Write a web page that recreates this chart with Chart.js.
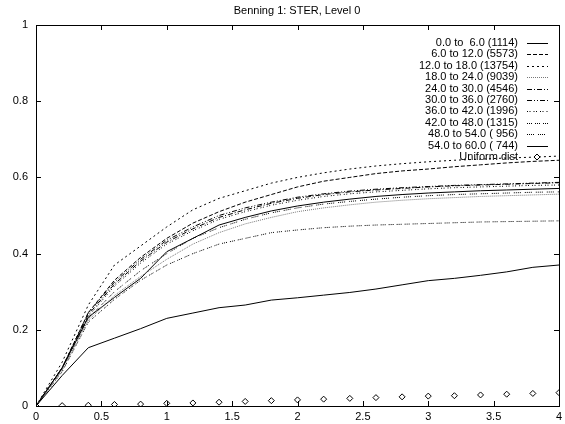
<!DOCTYPE html>
<html>
<head>
<meta charset="utf-8">
<script src="https://cdn.jsdelivr.net/npm/chart.js@4/dist/chart.umd.min.js"></script>
<style>
  html, body { margin: 0; padding: 0; background: #fff; }
  canvas { display: block; }
</style>
</head>
<body>
<canvas id="chart" width="565" height="424"></canvas>
<script>
// x positions shared by all series
const xValues = [0, 0.2, 0.4, 0.6, 0.8, 1.0, 1.2, 1.4, 1.6, 1.8, 2.0,
  2.2, 2.4, 2.6, 2.8, 3.0, 3.2, 3.4, 3.6, 3.8, 4.0]

const seriesLabels = [
  "0.0 to  6.0 (1114)",
  "6.0 to 12.0 (5573)",
  "12.0 to 18.0 (13754)",
  "18.0 to 24.0 (9039)",
  "24.0 to 30.0 (4546)",
  "30.0 to 36.0 (2760)",
  "36.0 to 42.0 (1996)",
  "42.0 to 48.0 (1315)",
  "48.0 to 54.0 ( 956)",
  "54.0 to 60.0 ( 744)",
]

const s0to6 = [0, 0.08, 0.153, 0.178, 0.203, 0.230, 0.244, 0.258, 0.265, 0.278, 0.284,
  0.291, 0.298, 0.307, 0.318, 0.329, 0.335, 0.343, 0.352, 0.364, 0.370]
const s6to12 = [0, 0.10, 0.245, 0.33, 0.39, 0.44, 0.48, 0.51, 0.535, 0.555, 0.575,
  0.59, 0.60, 0.61, 0.617, 0.622, 0.628, 0.633, 0.638, 0.642, 0.645]
const s12to18 = [0, 0.115, 0.265, 0.37, 0.42, 0.47, 0.515, 0.545, 0.565, 0.585, 0.60,
  0.612, 0.622, 0.63, 0.636, 0.641, 0.645, 0.648, 0.651, 0.653, 0.656]
const s18to24 = [0, 0.095, 0.225, 0.29, 0.34, 0.385, 0.425, 0.455, 0.478, 0.495, 0.51,
  0.52, 0.528, 0.535, 0.54, 0.544, 0.547, 0.55, 0.552, 0.554, 0.556]
const s24to30 = [0, 0.10, 0.24, 0.32, 0.38, 0.43, 0.465, 0.495, 0.515, 0.532, 0.545,
  0.555, 0.562, 0.567, 0.571, 0.575, 0.578, 0.58, 0.582, 0.584, 0.586]
const s30to36 = [0, 0.10, 0.245, 0.325, 0.385, 0.435, 0.47, 0.50, 0.52, 0.535, 0.548,
  0.557, 0.564, 0.569, 0.573, 0.576, 0.579, 0.581, 0.583, 0.585, 0.587]
const s36to42 = [0, 0.10, 0.235, 0.315, 0.375, 0.425, 0.46, 0.49, 0.51, 0.527, 0.54,
  0.55, 0.557, 0.562, 0.566, 0.57, 0.573, 0.575, 0.577, 0.579, 0.58]
const s42to48 = [0, 0.09, 0.22, 0.28, 0.33, 0.37, 0.40, 0.425, 0.44, 0.455, 0.462,
  0.468, 0.472, 0.475, 0.477, 0.479, 0.481, 0.483, 0.484, 0.485, 0.486]
const s48to54 = [0, 0.095, 0.23, 0.30, 0.355, 0.40, 0.44, 0.468, 0.49, 0.507, 0.52,
  0.53, 0.537, 0.543, 0.548, 0.552, 0.555, 0.557, 0.559, 0.561, 0.562]
const s54to60 = [0, 0.10, 0.233, 0.285, 0.335, 0.405, 0.44, 0.475, 0.495, 0.512, 0.525,
  0.535, 0.543, 0.55, 0.555, 0.559, 0.562, 0.565, 0.567, 0.569, 0.571]
const uniformDist = [0, 0.001, 0.002, 0.004, 0.005, 0.007, 0.008, 0.010, 0.012, 0.014, 0.016,
  0.018, 0.020, 0.022, 0.024, 0.026, 0.027, 0.029, 0.031, 0.033, 0.035]

const xTicks = [0, 0.5, 1, 1.5, 2, 2.5, 3, 3.5, 4]
const yTicks = [0, 0.2, 0.4, 0.6, 0.8, 1]

const seriesValues = [s0to6, s6to12, s12to18, s18to24, s24to30,
  s30to36, s36to42, s42to48, s48to54, s54to60]

// gnuplot-ish line types
const dashes = [
  [], [4, 2], [2, 3], [1, 1], [5, 2, 1, 2],
  [5, 2, 1, 2, 1, 2], [1, 1.5, 1, 3], [1, 1, 1, 1, 1, 3], [1, 1, 1, 1, 1, 1, 1, 4], [],
]
const FAMILY = "'Liberation Sans', Arial, sans-serif"
const FONT = "11px " + FAMILY

const toPoints = (ys) => xValues.map((x, i) => ({ x: x, y: ys[i] }))

const datasets = seriesValues.map((ys, i) => ({
  label: seriesLabels[i],
  data: toPoints(ys),
  showLine: true,
  borderColor: i === 3 ? "#777" : "#000",
  borderWidth: 1,
  borderDash: dashes[i],
  pointRadius: 0,
  tension: 0,
  fill: false,
}))
datasets.push({
  label: "Uniform dist",
  data: toPoints(uniformDist),
  showLine: false,
  pointStyle: "rectRot",
  pointRadius: 3,
  borderColor: "#000",
  backgroundColor: "#fff",
  borderWidth: 1,
})

// frame, inward ticks, title and gnuplot style key
const gnuplotLook = {
  id: "gnuplotLook",
  afterDraw(chart) {
    const c = chart.ctx
    const a = chart.chartArea
    const xs = chart.scales.x
    const ys = chart.scales.y
    c.save()
    c.strokeStyle = "#000"
    c.lineWidth = 1
    c.setLineDash([])
    c.strokeRect(a.left + 0.5, a.top + 0.5, a.right - a.left, a.bottom - a.top)
    c.beginPath()
    xTicks.forEach((v) => {
      const px = Math.round(xs.getPixelForValue(v)) + 0.5
      c.moveTo(px, a.bottom); c.lineTo(px, a.bottom - 5)
      c.moveTo(px, a.top); c.lineTo(px, a.top + 5)
    })
    yTicks.forEach((v) => {
      const py = Math.round(ys.getPixelForValue(v)) + 0.5
      c.moveTo(a.left, py); c.lineTo(a.left + 5, py)
      c.moveTo(a.right, py); c.lineTo(a.right - 5, py)
    })
    c.stroke()

    c.fillStyle = "#000"
    c.font = FONT
    c.textAlign = "center"
    c.textBaseline = "middle"
    c.fillText("Benning 1: STER, Level 0", 297, 11)

    // key
    const textRight = 518
    const sx0 = 527
    const sx1 = 548
    chart.data.datasets.forEach((ds, i) => {
      const y = 43 + i * 11.4
      c.textAlign = "right"
      c.fillStyle = "#000"
      c.fillText(ds.label, textRight, y)
      if (ds.showLine === false) {
        const cx = 537
        c.setLineDash([])
        c.beginPath()
        c.moveTo(cx, y - 3); c.lineTo(cx + 3, y); c.lineTo(cx, y + 3); c.lineTo(cx - 3, y); c.closePath()
        c.fillStyle = "#fff"
        c.fill()
        c.stroke()
      } else {
        c.strokeStyle = ds.borderColor
        c.setLineDash(ds.borderDash)
        c.beginPath()
        c.moveTo(sx0, Math.round(y) + 0.5); c.lineTo(sx1, Math.round(y) + 0.5)
        c.stroke()
        c.strokeStyle = "#000"
      }
    })
    c.restore()
  },
}

new Chart(document.getElementById("chart"), {
  type: "scatter",
  data: { datasets: datasets },
  options: {
    responsive: false,
    animation: false,
    devicePixelRatio: 1,
    layout: { padding: { top: 25, right: 6, left: 0, bottom: 0 } },
    plugins: {
      legend: { display: false },
      title: { display: false },
      tooltip: { enabled: false },
    },
    scales: {
      x: {
        type: "linear",
        min: 0,
        max: 4,
        afterFit: (s) => { s.height = 18; s.paddingLeft = 0; s.paddingRight = 0 },
        afterBuildTicks: (s) => { s.ticks = xTicks.map((v) => ({ value: v })) },
        grid: { display: false, drawTicks: false },
        border: { display: false },
        ticks: {
          color: "#000", font: { family: FAMILY, size: 11 }, padding: 4, maxRotation: 0,
          callback: (v) => String(v),
        },
      },
      y: {
        type: "linear",
        min: 0,
        max: 1,
        afterFit: (s) => { s.width = 36; s.paddingTop = 0; s.paddingBottom = 0 },
        afterBuildTicks: (s) => { s.ticks = yTicks.map((v) => ({ value: v })) },
        grid: { display: false, drawTicks: false },
        border: { display: false },
        ticks: {
          color: "#000", font: { family: FAMILY, size: 11 }, padding: 8,
          callback: (v) => String(v),
        },
      },
    },
  },
  plugins: [gnuplotLook],
})
</script>
</body>
</html>
